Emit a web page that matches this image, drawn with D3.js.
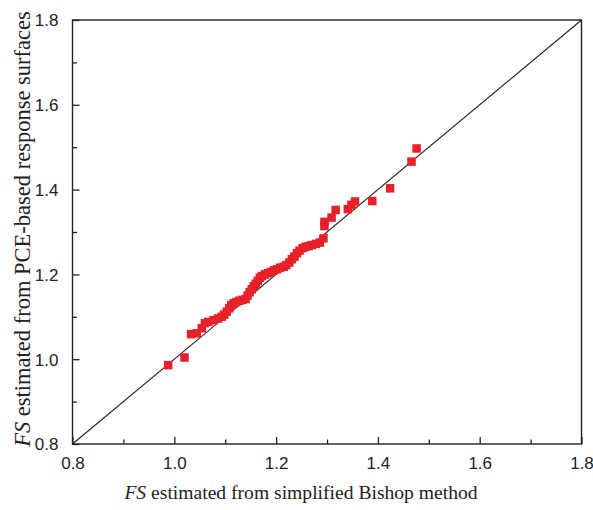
<!DOCTYPE html>
<html>
<head>
<meta charset="utf-8">
<script src="https://cdn.jsdelivr.net/npm/d3@7"></script>
<style>
  body { margin: 0; background: #fff; }
  .tick text { font-family: "Liberation Sans", Arial, sans-serif; font-size: 17px; fill: #222; }
  .axis-title { font-family: "Liberation Serif", "Times New Roman", serif; fill: #222; }
</style>
</head>
<body>
<script>
// FS from simplified Bishop method (x) vs PCE-based response surfaces (y)
const bishopFS = [0.988, 1.020, 1.033, 1.044, 1.054, 1.060, 1.067, 1.077, 1.086, 1.093,
  1.098, 1.103, 1.108, 1.112, 1.117, 1.122, 1.128, 1.134, 1.140, 1.144,
  1.148, 1.152, 1.156, 1.160, 1.164, 1.168, 1.172, 1.178, 1.184, 1.190,
  1.196, 1.202, 1.208, 1.215, 1.220, 1.226, 1.231, 1.236, 1.241, 1.246,
  1.252, 1.258, 1.264, 1.270, 1.278, 1.286, 1.293, 1.295, 1.295, 1.309,
  1.317, 1.341, 1.348, 1.355, 1.389, 1.424, 1.466, 1.476];
const pceFS = [0.986, 1.004, 1.059, 1.061, 1.073, 1.085, 1.088, 1.092, 1.096, 1.100,
  1.105, 1.112, 1.120, 1.128, 1.132, 1.135, 1.138, 1.140, 1.142, 1.150,
  1.158, 1.165, 1.172, 1.178, 1.185, 1.192, 1.196, 1.200, 1.203, 1.206,
  1.210, 1.212, 1.216, 1.218, 1.222, 1.228, 1.236, 1.242, 1.250, 1.256,
  1.262, 1.265, 1.267, 1.269, 1.272, 1.275, 1.285, 1.314, 1.324, 1.334,
  1.352, 1.354, 1.364, 1.372, 1.373, 1.403, 1.466, 1.497];
const majorTicks = [0.8, 1.0, 1.2, 1.4, 1.6, 1.8];
const minorTicks = [0.9, 1.1, 1.3, 1.5, 1.7];

const W = 593, H = 510;
const margin = { top: 20, right: 11.5, bottom: 66, left: 72.5 };
const width = W - margin.left - margin.right;
const height = H - margin.top - margin.bottom;

const svg = d3.select('body').append('svg')
  .attr('width', W).attr('height', H);
const g = svg.append('g')
  .attr('transform', `translate(${margin.left},${margin.top})`);

const x = d3.scaleLinear().domain([0.8, 1.8]).range([0, width]);
const y = d3.scaleLinear().domain([0.8, 1.8]).range([height, 0]);

// minor ticks
g.append('g').attr('transform', `translate(0,${height})`)
  .call(d3.axisBottom(x).tickValues(minorTicks).tickSize(-4.5).tickFormat(''))
  .call(s => s.select('.domain').remove());
g.append('g')
  .call(d3.axisLeft(y).tickValues(minorTicks).tickSize(-4.5).tickFormat(''))
  .call(s => s.select('.domain').remove());

// major ticks with labels
g.append('g').attr('transform', `translate(0,${height})`)
  .call(d3.axisBottom(x).tickValues(majorTicks).tickSize(-7).tickPadding(13).tickFormat(d3.format('.1f')))
  .call(s => s.select('.domain').remove());
g.append('g')
  .call(d3.axisLeft(y).tickValues(majorTicks).tickSize(-7).tickPadding(14).tickFormat(d3.format('.1f')))
  .call(s => s.select('.domain').remove())
  .selectAll('text').attr('dy', '0.35em');

g.selectAll('.tick line').attr('stroke', '#222').attr('stroke-width', 1.3);

// frame
g.append('rect').attr('width', width).attr('height', height)
  .attr('fill', 'none').attr('stroke', '#222').attr('stroke-width', 1.4);

// 1:1 line
g.append('line')
  .attr('x1', x(0.8)).attr('y1', y(0.8))
  .attr('x2', x(1.8)).attr('y2', y(1.8))
  .attr('stroke', '#222').attr('stroke-width', 1.1);

// points
const sz = 8.5;
g.selectAll('.pt').data(bishopFS).enter().append('rect')
  .attr('class', 'pt')
  .attr('x', d => x(d) - sz / 2)
  .attr('y', (d, i) => y(pceFS[i]) - sz / 2)
  .attr('width', sz).attr('height', sz)
  .attr('fill', '#e8202a');

// axis titles
const xt = svg.append('text').attr('class', 'axis-title')
  .attr('font-size', '19.6px')
  .attr('x', 301).attr('y', 499).attr('text-anchor', 'middle');
xt.append('tspan').attr('font-style', 'italic').text('FS');
xt.append('tspan').text(' estimated from simplified Bishop method');

const yt = svg.append('text').attr('class', 'axis-title')
  .attr('font-size', '22.5px')
  .attr('transform', `translate(30,229) rotate(-90)`)
  .attr('text-anchor', 'middle');
yt.append('tspan').attr('font-style', 'italic').text('FS');
yt.append('tspan').text(' estimated from PCE-based response surfaces');
</script>
</body>
</html>
